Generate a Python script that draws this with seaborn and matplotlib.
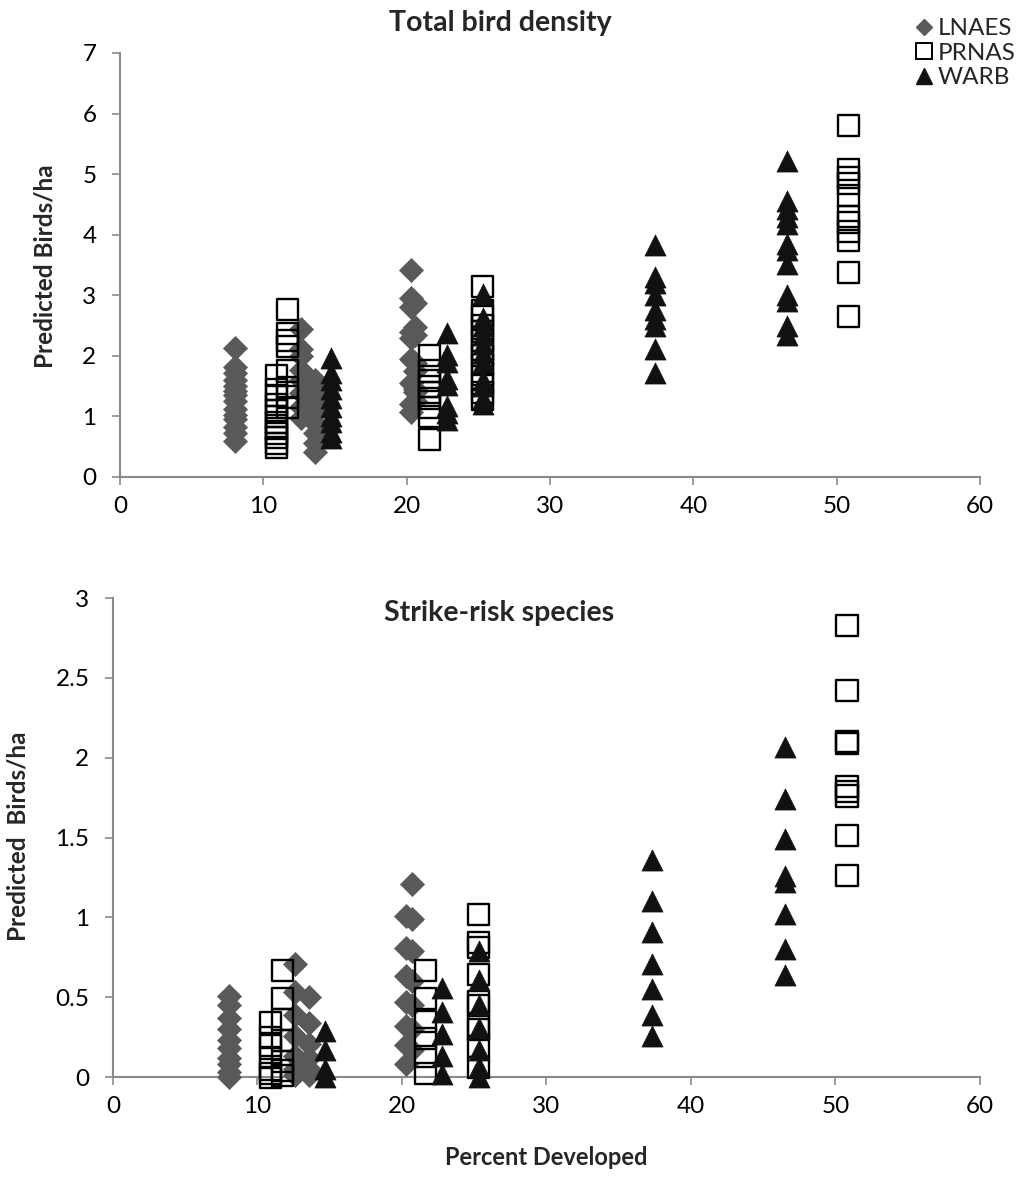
import matplotlib
matplotlib.use("Agg")
import matplotlib.pyplot as plt
import seaborn as sns
import pandas as pd
from matplotlib.lines import Line2D

# ---------------- data (percent developed -> predicted birds/ha) ----------------
lnaes_top = {
    8.0: [2.13, 1.82, 1.72, 1.6, 1.5, 1.42, 1.35, 1.25, 1.12, 1.02, 0.95, 0.82, 0.72, 0.6],
    12.6: [2.45, 2.12, 2.0, 1.77, 1.6, 1.38, 1.16, 0.97],
    13.6: [1.6, 1.43, 1.27, 1.1, 0.89, 0.73, 0.56, 0.41],
    20.3: [3.42, 2.95, 2.8, 2.4, 2.3, 1.95, 1.55, 1.2, 1.08],
    20.6: [2.88, 2.48, 2.35, 1.88, 1.75, 1.45, 1.4, 1.25],
}
prnas_top = {
    10.9: [1.68, 1.45, 1.35, 1.2, 1.1, 1.0, 0.9, 0.8, 0.72, 0.65, 0.55, 0.48],
    11.7: [2.77, 2.37, 2.25, 2.15, 1.75, 1.48, 1.32, 1.15],
    21.6: [2.0, 1.75, 1.6, 1.5, 1.4, 1.3, 1.15, 1.0, 0.62],
    25.3: [3.15, 2.75, 2.65, 2.5, 2.4, 2.25, 2.1, 2.0, 1.85, 1.7, 1.55, 1.4, 1.28],
    50.8: [5.8, 5.08, 4.95, 4.85, 4.65, 4.3, 4.2, 4.05, 3.9, 3.37, 2.65],
}
warb_top = {
    14.7: [1.97, 1.71, 1.6, 1.45, 1.3, 1.15, 1.0, 0.9, 0.75, 0.65],
    22.8: [2.38, 2.02, 1.9, 1.62, 1.52, 1.18, 1.05, 0.94],
    25.3: [3.02, 2.62, 2.5, 2.35, 2.2, 2.05, 1.9, 1.6, 1.5, 1.3, 1.2],
    37.3: [3.83, 3.3, 3.2, 3.0, 2.75, 2.6, 2.5, 2.12, 1.72],
    46.5: [5.22, 4.55, 4.42, 4.3, 4.18, 3.85, 3.75, 3.52, 3.0, 2.9, 2.5, 2.35],
}
lnaes_bot = {
    8.0: [0.51, 0.45, 0.37, 0.3, 0.23, 0.18, 0.12, 0.08, 0.03, 0.0],
    12.6: [0.71, 0.53, 0.39, 0.26, 0.13, 0.05, 0.01],
    13.6: [0.5, 0.34, 0.21, 0.12, 0.05, 0.01],
    20.3: [1.01, 0.81, 0.63, 0.47, 0.32, 0.2, 0.08],
    20.7: [1.21, 0.99, 0.79, 0.6, 0.45, 0.3, 0.17],
}
prnas_bot = {
    10.9: [0.34, 0.25, 0.2, 0.12, 0.05, 0.02, 0.0],
    11.7: [0.67, 0.49, 0.36, 0.23, 0.1, 0.04, 0.01],
    21.6: [0.67, 0.49, 0.35, 0.24, 0.13, 0.02],
    25.3: [1.02, 0.84, 0.81, 0.64, 0.47, 0.45, 0.32, 0.3, 0.19, 0.06],
    50.8: [2.83, 2.42, 2.1, 2.09, 1.82, 1.79, 1.76, 1.51, 1.26],
}
warb_bot = {
    14.7: [0.29, 0.17, 0.05, 0.0],
    22.8: [0.56, 0.41, 0.27, 0.13, 0.02],
    25.3: [0.79, 0.61, 0.45, 0.31, 0.17, 0.06, 0.0],
    37.3: [1.36, 1.1, 0.91, 0.71, 0.55, 0.39, 0.26],
    46.5: [2.07, 1.74, 1.49, 1.26, 1.22, 1.02, 0.8, 0.64],
}
groups = ["LNAES", "PRNAS", "WARB"]
x_ticks = [0, 10, 20, 30, 40, 50, 60]
y_ticks_top = [0, 1, 2, 3, 4, 5, 6, 7]
y_ticks_bot = [0, 0.5, 1, 1.5, 2, 2.5, 3]
y_ticklabels_bot = ["0", "0.5", "1", "1.5", "2", "2.5", "3"]


def to_df(d):
    rows = [(x, y) for x, ys in d.items() for y in ys]
    return pd.DataFrame(rows, columns=["x", "y"])


sns.set_style("white")
plt.rcParams["font.family"] = ["Lato", "DejaVu Sans"]

GRAY_AX = "#8a8a8a"
styles = {
    "LNAES": dict(marker="D", s=150, color="#595959", edgecolor="#595959", linewidth=0.5),
    "PRNAS": dict(marker="s", s=230, facecolor="none", edgecolor="black", linewidth=1.7),
    "WARB": dict(marker="^", s=230, color="#111111", edgecolor="#111111", linewidth=0.5),
}

fig = plt.figure(figsize=(10.30, 11.88), dpi=100)
ax1 = fig.add_axes([0.1165, 0.5985, 0.835, 0.3569])
ax2 = fig.add_axes([0.1097, 0.0934, 0.8417, 0.4032])

for ax, data, yticks, ylims in [
    (ax1, [lnaes_top, prnas_top, warb_top], y_ticks_top, (0, 7)),
    (ax2, [lnaes_bot, prnas_bot, warb_bot], y_ticks_bot, (0, 3)),
]:
    for g, d in zip(groups, data):
        df = to_df(d)
        sns.scatterplot(data=df, x="x", y="y", ax=ax, clip_on=False, zorder=3, **styles[g])
    ax.set_xlim(0, 60)
    ax.set_ylim(*ylims)
    ax.set_xticks(x_ticks)
    ax.set_yticks(yticks)
    for sp in ["top", "right"]:
        ax.spines[sp].set_visible(False)
    for sp in ["left", "bottom"]:
        ax.spines[sp].set_color(GRAY_AX)
        ax.spines[sp].set_linewidth(1.5)
    ax.tick_params(axis="both", which="both", direction="out", length=6, width=1.2,
                   color=GRAY_AX, labelsize=17.5, labelcolor="black",
                   left=True, bottom=True)
    ax.tick_params(axis="y", pad=11)
    ax.tick_params(axis="x", pad=8)
    ax.set_xlabel("")

ax2.set_yticklabels(y_ticklabels_bot)
ax1.set_ylabel("Predicted Birds/ha", fontsize=17.5, fontweight="bold")
ax1.yaxis.set_label_coords(-0.087, 0.497)
ax2.set_ylabel("Predicted  Birds/ha", fontsize=17.5, fontweight="bold")
ax2.yaxis.set_label_coords(-0.110, 0.503)
ax2.set_xlabel("Percent Developed", fontsize=17, fontweight="bold")
ax2.xaxis.set_label_coords(0.5, -0.169)
ax2.xaxis.label.set_va("center")
ax1.yaxis.label.set_va("center")
ax2.yaxis.label.set_va("center")

fig.text(0.486, 0.981, "Total bird density", fontsize=20.5, fontweight="bold",
         ha="center", va="center")
ax2.text(0.445, 0.968, "Strike-risk species", transform=ax2.transAxes, fontsize=20.5,
         fontweight="bold", ha="center", va="center")

handles = [
    Line2D([], [], linestyle="none", marker="D", markersize=8, color="#595959"),
    Line2D([], [], linestyle="none", marker="s", markersize=12, markerfacecolor="none",
           markeredgecolor="black", markeredgewidth=1.4),
    Line2D([], [], linestyle="none", marker="^", markersize=11, color="#111111"),
]
fig.legend(handles, groups, loc="upper right", bbox_to_anchor=(1.0, 0.997), frameon=False,
           fontsize=17.5, handletextpad=0.05, labelspacing=0.15, handlelength=1.0,
           borderaxespad=0.2)

fig.savefig("out.png", dpi=100)
